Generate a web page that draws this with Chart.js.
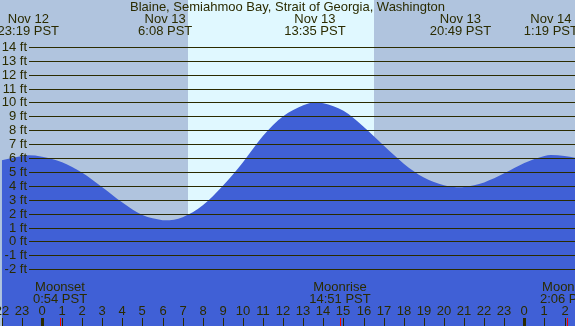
<!DOCTYPE html>
<html>
<head>
<meta charset="utf-8">
<script src="https://cdn.jsdelivr.net/npm/chart.js@4/dist/chart.umd.min.js"></script>
<style>
html,body{margin:0;padding:0;background:#b0c4de;}
#wrap{width:575px;height:326px;position:relative;}
</style>
</head>
<body>
<div id="wrap"><canvas id="c" width="575" height="326"></canvas></div>
<script>
// Hours relative to Nov 13 00:00 PST
const tideHours  = [-2, -1, -0.68, 0, 1, 2, 3, 4, 5, 6, 6.13, 7, 8, 9, 10, 11, 12, 13, 13.58, 14, 15, 16, 17, 18, 19, 20, 20.82, 21, 22, 23, 24, 25, 25.32, 26, 27];
const tideHeights = [5.85, 6.15, 6.2, 6.1, 5.7, 4.95, 3.9, 2.8, 1.9, 1.53, 1.52, 1.75, 2.6, 4.0, 5.7, 7.6, 9.0, 9.8, 10.0, 9.95, 9.4, 8.25, 6.9, 5.6, 4.6, 4.05, 3.9, 3.92, 4.25, 4.9, 5.65, 6.15, 6.22, 6.15, 5.9];

const title = "Blaine, Semiahmoo Bay, Strait of Georgia, Washington";
const extremeHours = [-0.68, 6.13, 13.58, 20.82, 25.32];
const extremeDates = ["Nov 12", "Nov 13", "Nov 13", "Nov 13", "Nov 14"];
const extremeTimes = ["23:19 PST", "6:08 PST", "13:35 PST", "20:49 PST", "1:19 PST"];

const sunriseHour = 7.28;
const sunsetHour = 16.52;

const footTicks = [14, 13, 12, 11, 10, 9, 8, 7, 6, 5, 4, 3, 2, 1, 0, -1, -2];
const hourTicks = [-2, -1, 0, 1, 2, 3, 4, 5, 6, 7, 8, 9, 10, 11, 12, 13, 14, 15, 16, 17, 18, 19, 20, 21, 22, 23, 24, 25, 26];
const hourLabels = ["22", "23", "0", "1", "2", "3", "4", "5", "6", "7", "8", "9", "10", "11", "12", "13", "14", "15", "16", "17", "18", "19", "20", "21", "22", "23", "0", "1", "2"];

const moonHours = [0.9, 14.85, 26.1];
const moonEvents = ["Moonset", "Moonrise", "Moonset"];
const moonTimes = ["0:54 PST", "14:51 PST", "2:06 PST"];

const INK = '#2b2b00';
const FONT = '13px "Liberation Sans", Arial, sans-serif';

const decor = {
  id: 'decor',
  beforeDatasetsDraw(chart) {
    const ctx = chart.ctx, xs = chart.scales.x;
    const W = chart.width, H = chart.height;
    ctx.save();
    ctx.fillStyle = '#b0c4de';
    ctx.fillRect(0, 0, W, H);
    const a = Math.round(xs.getPixelForValue(sunriseHour));
    const b = Math.round(xs.getPixelForValue(sunsetHour));
    ctx.fillStyle = '#e0f8ff';
    ctx.fillRect(a, 0, b - a, H);
    ctx.restore();
  },
  afterDatasetsDraw(chart) {
    const ctx = chart.ctx, xs = chart.scales.x, ys = chart.scales.y;
    const W = chart.width, H = chart.height;
    ctx.save();
    ctx.font = FONT;
    ctx.fillStyle = INK;
    ctx.strokeStyle = INK;
    ctx.lineWidth = 1;
    footTicks.forEach(f => {
      const y = Math.round(ys.getPixelForValue(f)) + 0.5;
      ctx.beginPath();
      ctx.moveTo(29, y);
      ctx.lineTo(W, y);
      ctx.stroke();
      ctx.textAlign = 'right';
      ctx.textBaseline = 'middle';
      ctx.fillText(f + ' ft', 27, y);
    });
    ctx.textAlign = 'center';
    ctx.textBaseline = 'middle';
    ctx.fillText(title, W / 2, 7);
    extremeHours.forEach((h, i) => {
      const x = xs.getPixelForValue(h);
      ctx.fillText(extremeDates[i], x, 19);
      ctx.fillText(extremeTimes[i], x, 31.5);
    });
    hourTicks.forEach((h, i) => {
      const x = Math.round(xs.getPixelForValue(h));
      ctx.fillText(hourLabels[i], x, 311.5);
      const isMid = hourLabels[i] === '0';
      ctx.fillStyle = INK;
      ctx.fillRect(x - (isMid ? 1 : 0), 318, isMid ? 3 : 1, H - 318);
    });
    moonHours.forEach((h, i) => {
      const x = Math.round(xs.getPixelForValue(h));
      ctx.fillStyle = INK;
      ctx.fillText(moonEvents[i], x, 287.5);
      ctx.fillText(moonTimes[i], x, 299.5);
      ctx.fillStyle = '#ff0000';
      ctx.fillRect(x, 318, 1, H - 318);
    });
    ctx.restore();
  }
};

new Chart(document.getElementById('c'), {
  type: 'line',
  data: {
    datasets: [{
      data: tideHours.map((h, i) => ({x: h, y: tideHeights[i]})),
      fill: 'start',
      backgroundColor: 'rgb(64,96,214)',
      borderColor: 'rgb(64,96,214)',
      borderWidth: 0,
      pointRadius: 0,
      cubicInterpolationMode: 'monotone'
    }]
  },
  options: {
    responsive: false,
    animation: false,
    devicePixelRatio: 1,
    layout: {padding: 0},
    plugins: {legend: {display: false}, tooltip: {enabled: false}},
    scales: {
      x: {type: 'linear', min: -2.09, max: 26.52, display: false},
      y: {type: 'linear', min: -6.08, max: 17.37, display: false}
    }
  },
  plugins: [decor]
});
</script>
</body>
</html>
